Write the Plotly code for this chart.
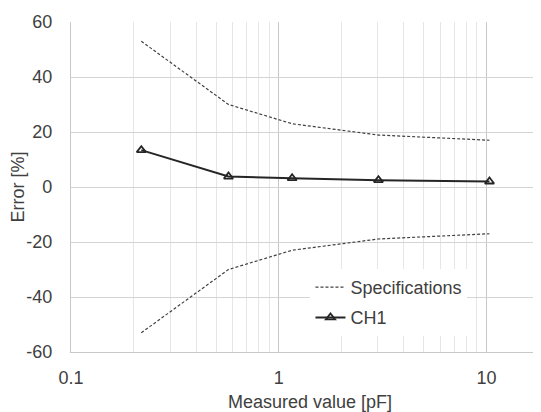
import plotly.graph_objects as go
import math

x_vals = [0.218, 0.573, 1.16, 3.02, 10.34]
ch1 = [13.4, 3.8, 3.2, 2.5, 2.0]
spec_upper = [53.0, 30.0, 23.0, 18.9, 17.0]
spec_lower = [-53.0, -30.0, -23.0, -18.9, -17.0]
x_ticks = [0.1, 1, 10]
x_tick_labels = ["0.1", "1", "10"]
y_ticks = [-60, -40, -20, 0, 20, 40, 60]
y_tick_labels = ["-60", "-40", "-20", "0", "20", "40", "60"]

text_color = "#404040"
font = dict(family="Liberation Sans, Arial, sans-serif", size=18, color=text_color)

fig = go.Figure()
fig.add_trace(go.Scatter(
    x=x_vals, y=spec_upper, mode="lines", name="Specifications",
    line=dict(color="#404040", width=1.2, dash="3px,2px"),
    legendgroup="spec"))
fig.add_trace(go.Scatter(
    x=x_vals, y=spec_lower, mode="lines", name="Specifications",
    line=dict(color="#404040", width=1.2, dash="3px,2px"),
    legendgroup="spec", showlegend=False))
fig.add_trace(go.Scatter(
    x=x_vals, y=ch1, mode="lines+markers", name="CH1",
    line=dict(color="#262626", width=2),
    marker=dict(symbol="triangle-up-open", size=8, color="#262626",
                line=dict(width=1.8, color="#262626")),
    legendgroup="ch1"))

fig.update_layout(
    width=541, height=412,
    margin=dict(l=63, r=0, t=14, b=68),
    paper_bgcolor="white", plot_bgcolor="white",
    font=font,
    showlegend=True,
    legend=dict(x=0.501, y=0.252, xanchor="left", yanchor="top",
                bgcolor="white", font=font, tracegroupgap=4,
                itemwidth=30),
)
fig.update_xaxes(
    type="log", range=[-1, math.log10(20.0)], automargin=False,
    tickvals=x_ticks, ticktext=x_tick_labels,
    showgrid=True, gridcolor="#c8c8c8", gridwidth=1.3,
    minor=dict(showgrid=True, gridcolor="#e6e6e6", gridwidth=1, dtick="D1"),
    showline=True, linecolor="#c8c8c8", linewidth=1.3,
    ticks="outside", ticklen=9, tickcolor="rgba(0,0,0,0)",
    zeroline=False,
    title=dict(text="Measured value [pF]", font=font, standoff=8),
)
fig.update_yaxes(
    range=[-60, 60], automargin=False,
    tickvals=y_ticks, ticktext=y_tick_labels,
    showgrid=True, gridcolor="#d4d4d4", gridwidth=1.3,
    showline=True, linecolor="#c8c8c8", linewidth=1.3,
    ticks="outside", ticklen=14, tickcolor="rgba(0,0,0,0)",
    zeroline=False,
    title=dict(text="Error [%]", font=font, standoff=8),
)

fig.write_html("out.html")
